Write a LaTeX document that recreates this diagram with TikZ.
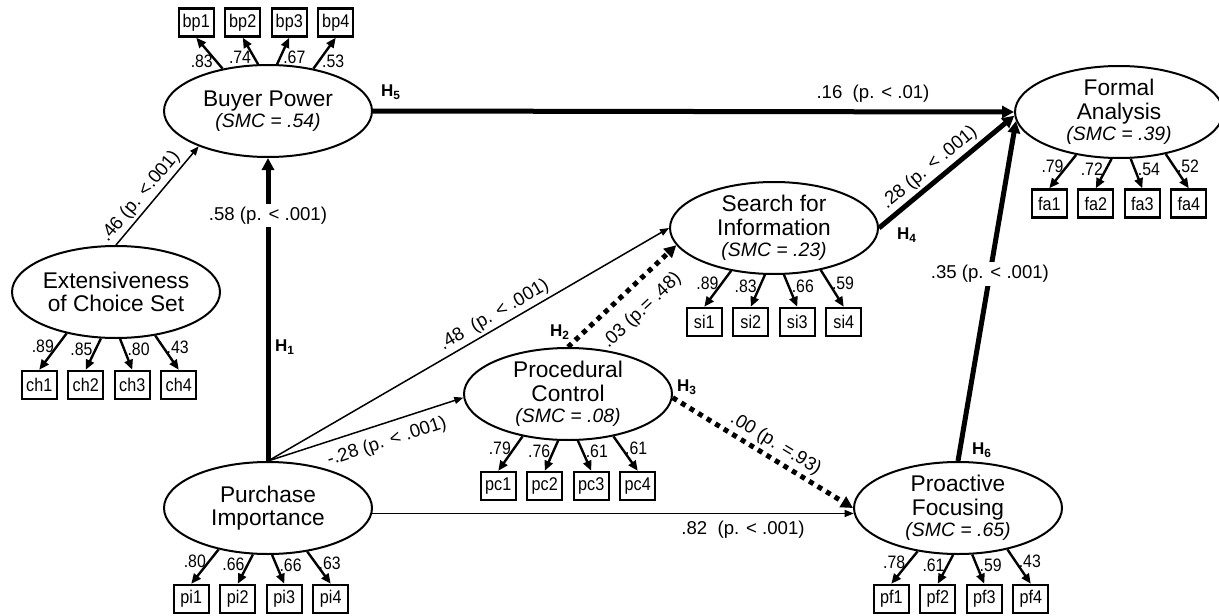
\documentclass[tikz,border=0pt]{standalone}
\usepackage{fontspec}
\setmainfont{Liberation Sans}
\newfontfamily\narrowfont[FakeStretch=0.88]{Liberation Sans}
\usetikzlibrary{shapes.geometric,arrows.meta,calc}
\newcommand{\smcline}[1]{{\fontsize{9.7pt}{10pt}\selectfont\itshape #1}}
\newcommand{\hyp}[1]{\textbf{H\textsubscript{#1}}}
\begin{document}
\begin{tikzpicture}[x=0.5pt, y=-0.5pt,
        latent/.style={ellipse, draw, line width=1pt, minimum width=104pt, minimum height=46pt, inner sep=-1pt, align=center, font=\fontsize{11.35pt}{11.8pt}\selectfont},
        ind/.style={draw, line width=1.2pt, minimum width=17.5pt, minimum height=14pt, inner sep=0pt, font=\narrowfont\fontsize{9.2pt}{10pt}\selectfont},
        load/.style={line width=1.2pt, -{Triangle[length=5pt,width=4.2pt]}},
        wt/.style={font=\narrowfont\fontsize{9pt}{9pt}\selectfont, inner sep=1pt},
        thinpath/.style={line width=0.75pt, -{Triangle[length=4.5pt,width=3.5pt]}},
        thickpath/.style={line width=2.5pt, -{Triangle[length=6pt,width=6pt]}},
        dotpath/.style={thickpath, dash pattern=on 2.5pt off 2.5pt},
        pl/.style={font=\fontsize{9.3pt}{10pt}\selectfont, inner sep=1.5pt},
        hlab/.style={font=\fontsize{8.5pt}{9pt}\selectfont}]
        \useasboundingbox (0,0) rectangle (1219,615);

        \node[latent] (buyer) at (268,111) {Buyer Power\\[-1.2pt]\smcline{(SMC = .54)}};
        \node[latent] (choice) at (116,292) {Extensiveness\\of Choice Set};
        \node[latent] (purch) at (268,508) {Purchase\\Importance};
        \node[latent] (search) at (774,228) {Search for\\Information\\[-1.2pt]\smcline{(SMC = .23)}};
        \node[latent] (proc) at (568,394) {Procedural\\Control\\[-1.2pt]\smcline{(SMC = .08)}};
        \node[latent] (formal) at (1119,112) {Formal\\Analysis\\[-1.2pt]\smcline{(SMC = .39)}};
        \node[latent] (proact) at (958,508) {Proactive\\Focusing\\[-1.2pt]\smcline{(SMC = .65)}};

        \foreach \i/\a/\w/\s in {1/137/.83/east, 2/102/.74/east, 3/79/.67/west, 4/43/.53/west} {
          \node[ind] (bp\i) at ($(buyer)+({-2+(\i-2.5)*46.5},-88.5)$) {bp\i};
          \draw[load] (buyer.\a) -- (bp\i.south) node[wt, pos=.25, anchor=\s] {\w};
        }
        \foreach \i/\a/\w/\s in {1/-140/.89/east, 2/-108/.85/east, 3/-85/.80/west, 4/-48/.43/west} {
          \node[ind] (ch\i) at ($(choice)+({-7+(\i-2.5)*46.5},93)$) {ch\i};
          \draw[load] (choice.\a) -- (ch\i.north) node[wt, pos=.35, anchor=\s] {\w};
        }
        \foreach \i/\a/\w/\s in {1/-140/.80/east, 2/-108/.66/east, 3/-85/.66/west, 4/-48/.63/west} {
          \node[ind] (pi\i) at ($(purch)+({-7+(\i-2.5)*46.5},91)$) {pi\i};
          \draw[load] (purch.\a) -- (pi\i.north) node[wt, pos=.35, anchor=\s] {\w};
        }
        \foreach \i/\a/\w/\s in {1/-135/.89/east, 2/-101/.83/east, 3/-78/.66/west, 4/-42/.59/west} {
          \node[ind] (si\i) at ($(search)+({(\i-2.5)*46.5},94)$) {si\i};
          \draw[load] (search.\a) -- (si\i.north) node[wt, pos=.35, anchor=\s] {\w};
        }
        \foreach \i/\a/\w/\s in {1/-137/.79/east, 2/-102/.76/east, 3/-78/.61/west, 4/-43/.61/west} {
          \node[ind] (pc\i) at ($(proc)+({(\i-2.5)*46.5},92)$) {pc\i};
          \draw[load] (proc.\a) -- (pc\i.north) node[wt, pos=.35, anchor=\s] {\w};
        }
        \foreach \i/\a/\w/\s in {1/-135/.79/east, 2/-99/.72/east, 3/-76/.54/west, 4/-42/.52/west} {
          \node[ind] (fa\i) at ($(formal)+({(\i-2.5)*46.5},91.5)$) {fa\i};
          \draw[load] (formal.\a) -- (fa\i.north) node[wt, pos=.35, anchor=\s] {\w};
        }
        \foreach \i/\a/\w/\s in {1/-133/.78/east, 2/-96/.61/east, 3/-73/.59/west, 4/-40/.43/west} {
          \node[ind] (pf\i) at ($(proact)+({3+(\i-2.5)*46.5},91)$) {pf\i};
          \draw[load] (proact.\a) -- (pf\i.north) node[wt, pos=.35, anchor=\s] {\w};
        }

        \draw[thinpath] (choice.north) -- (buyer.-153) node[pl, sloped, above, pos=.41] {.46 (p. <.001)};
        \draw[thickpath] (purch.north) -- (buyer.south) node[pl, pos=.81, fill=white] {.58 (p. < .001)};
        \draw[thickpath] (buyer.east) -- (formal.west) node[pl, above=2pt, pos=.78] {.16\ \ (p. < .01)};
        \draw[thinpath] (purch.north) -- (search.west) node[pl, sloped, above, pos=.58] {.48\ \ (p. < .001)};
        \draw[thinpath] (purch.north) -- (proc.182) node[pl, sloped, below=3pt, pos=.58] {-.28 (p. < .001)};
        \draw[thinpath] (purch.-3.3) -- (proact.183.3) node[pl, below=2pt, pos=.77] {.82\ \ (p. < .001)};
        \draw[dotpath] (proc.north) -- (search.190) node[pl, sloped, below=5pt, pos=.53] {.03 (p.= .48)};
        \draw[dotpath] (proc.-2) -- (proact.west) node[pl, sloped, above, pos=.53] {.00 (p. =.93)};
        \draw[thickpath] (search.east) -- (formal.182) node[pl, sloped, above, pos=.44] {.28 (p. < .001)};
        \draw[thickpath] (proact.north) -- (formal.185) node[pl, pos=.55, fill=white] {.35 (p. < .001)};

        \node[hlab] (h1) at (285,347) {\hyp{1}};
        \node[hlab] (h2) at (560,332) {\hyp{2}};
        \node[hlab] (h3) at (687,387) {\hyp{3}};
        \node[hlab] (h4) at (907,235) {\hyp{4}};
        \node[hlab] (h5) at (391,92) {\hyp{5}};
        \node[hlab] (h6) at (982,450) {\hyp{6}};
      \end{tikzpicture}
\end{document}
